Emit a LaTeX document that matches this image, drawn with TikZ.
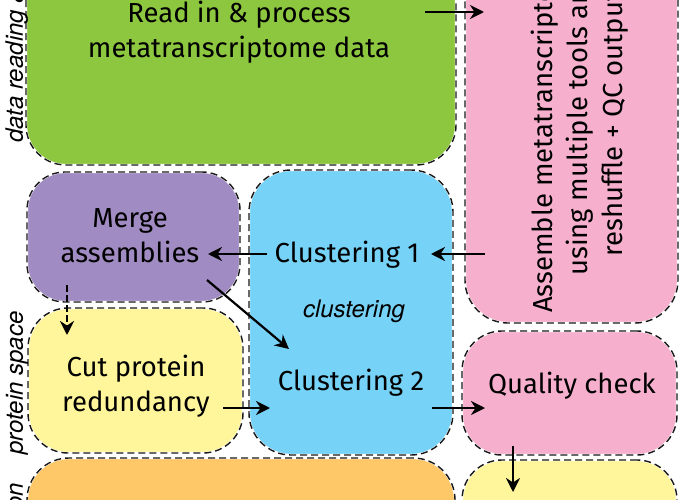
\documentclass[tikz,border=0pt]{standalone}
\usepackage{fontspec}
\setmainfont{Fira Sans}
\newfontfamily\labfont{TeX Gyre Heros}
\usetikzlibrary{arrows.meta}
\definecolor{cgreen}{RGB}{141,198,63}
\definecolor{cpink}{RGB}{246,176,205}
\definecolor{cpurple}{RGB}{160,139,194}
\definecolor{cblue}{RGB}{118,210,246}
\definecolor{cyellow}{RGB}{255,245,155}
\definecolor{corange}{RGB}{254,200,104}
\begin{document}
\begin{tikzpicture}[x=1pt,y=-1pt,
  box/.style={rectangle, inner sep=0pt, rounded corners=40pt, fill=#1, draw=white, line width=2.2pt,
    postaction={draw=black!90, dash pattern=on 7pt off 4pt, line width=1.4pt}},
  txt/.style={font=\fontsize{27.5}{35}\selectfont, align=center, inner sep=0pt},
  lab/.style={font=\labfont\itshape\fontsize{24}{28}\selectfont, inner sep=0pt},
  arr/.style={line width=2.2pt, -{Stealth[length=14pt,width=14pt,inset=4.5pt]}}]
\useasboundingbox (0,0) rectangle (680,500);
\begin{scope}
\clip (0,0) rectangle (680,500);
% boxes
\node[box=cgreen, minimum width=430pt, minimum height=265pt] (green) at (241,32.5) {};
\node[box=cpink, minimum width=213pt, minimum height=423pt, rounded corners=43pt] (pinkA) at (571.5,111.5) {};
\node[box=cpurple, minimum width=213pt, minimum height=130pt, rounded corners=38pt] (purple) at (133.5,237) {};
\node[box=cblue, minimum width=204pt, minimum height=285pt, rounded corners=42pt] (blue) at (351,312.5) {};
\node[box=cyellow, minimum width=215pt, minimum height=145pt] (yellowA) at (135.5,380.5) {};
\node[box=corange, minimum width=428pt, minimum height=142pt, rounded corners=42pt] (orange) at (241,529) {};
\node[box=cpink, minimum width=215pt, minimum height=124pt] (qc) at (569.5,393) {};
\node[box=cyellow, minimum width=215pt, minimum height=140pt] (yellowB) at (569.5,530) {};
% texts
\node[txt, anchor=base] (read) at (239,58) {Read in \& process\\metatranscriptome data};
\node[txt, anchor=base] (merge) at (130,262) {Merge\\assemblies};
\node[txt, anchor=base] (c1) at (347,262) {Clustering 1};
\node[txt, anchor=base] (c2) at (351,390) {Clustering 2};
\node[txt, anchor=base] (cut) at (136,411) {Cut protein\\redundancy};
\node[txt, anchor=base] (qct) at (572,393) {Quality check};
\node[txt, rotate=90, anchor=center] (assemble) at (580,124) {Assemble metatranscriptomes\\using multiple tools and\\reshuffle + QC output};
\node[lab, anchor=base] (clab) at (354,317) {clustering};
\node[lab, rotate=90, anchor=base west] (l1) at (23,143) {data reading \&};
\node[lab, rotate=90, anchor=base] (l2) at (23,383) {protein space};
\node[lab, rotate=90, anchor=base east] (l3) at (23,483) {on};
% arrow end points
\coordinate (a1s) at (425,12);  \coordinate (a1e) at (484,12);
\coordinate (a2s) at (485,254); \coordinate (a2e) at (431,254);
\coordinate (a3s) at (267,254); \coordinate (a3e) at (208,254);
\coordinate (a4s) at (207,280); \coordinate (a4e) at (289,349);
\coordinate (a5s) at (67,285);  \coordinate (a5e) at (67,335);
\coordinate (a6s) at (223,408); \coordinate (a6e) at (270,408);
\coordinate (a7s) at (432,408); \coordinate (a7e) at (485,408);
\coordinate (a8s) at (513,446); \coordinate (a8e) at (513,492);
\draw[arr] (a1s) -- (a1e);
\draw[arr] (a2s) -- (a2e);
\draw[arr] (a3s) -- (a3e);
\draw[arr] (a4s) -- (a4e);
\draw[arr, dash pattern=on 7pt off 3pt] (a5s) -- (a5e);
\draw[arr] (a6s) -- (a6e);
\draw[arr] (a7s) -- (a7e);
\draw[arr] (a8s) -- (a8e);
\end{scope}
\end{tikzpicture}
\end{document}
